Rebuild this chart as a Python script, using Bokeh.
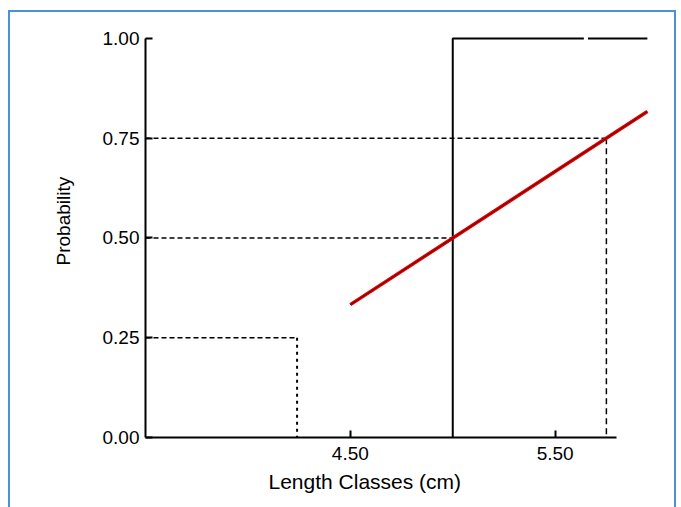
from bokeh.plotting import figure
from bokeh.models import FixedTicker, NumeralTickFormatter, Range1d, Title
from bokeh.embed import file_html
from bokeh.resources import INLINE

# ---- data ----
y_ticks = [0.0, 0.25, 0.50, 0.75, 1.00]
x_ticks = [4.50, 5.50]

# empirical step (maturity) line
step_x1 = [5.0, 5.0, 5.64]
step_y1 = [0.0, 1.0, 1.0]
step_x2 = [5.66, 5.95]
step_y2 = [1.0, 1.0]

# fitted logistic (linearised) line
fit_x = [4.50, 5.95]
fit_y = [0.333, 0.817]

# quantile reference lines
q25_len = 4.24
q50_len = 5.00
q75_len = 5.75
x_min = 3.50

x_label = "Length Classes (cm)"
y_label = "Probability"

p = figure(width=681, height=507, output_backend="svg", toolbar_location=None,
           x_range=Range1d(3.5, 5.98), y_range=Range1d(0.0, 1.02),
           min_border_left=145, min_border_right=28, min_border_top=30, min_border_bottom=70)
p.outline_line_color = None
p.xgrid.visible = False
p.ygrid.visible = False
p.background_fill_color = "white"
p.border_fill_color = None

blue = "#4a90d9"
g = f"linear-gradient({blue},{blue})"
p.styles = {
    "background": (f"{g} 8px 10px / 2px 497px no-repeat, "
                   f"{g} 8px 10px / 668px 2px no-repeat, "
                   f"{g} 674px 10px / 2px 497px no-repeat, white"),
}

dash = "5 3"
# horizontal dashed lines
p.line([x_min, q25_len], [0.25, 0.25], line_color="black", line_width=1.5, line_dash=dash)
p.line([x_min, q50_len], [0.50, 0.50], line_color="black", line_width=1.5, line_dash=dash)
p.line([x_min, q75_len], [0.75, 0.75], line_color="black", line_width=1.5, line_dash=dash)
# vertical drop lines
p.line([q25_len, q25_len], [0.25, 0.0], line_color="black", line_width=2, line_dash="3 4")
p.line([q75_len, q75_len], [0.75, 0.0], line_color="black", line_width=1.5, line_dash="6 4")

# step
p.line(step_x1, step_y1, line_color="black", line_width=2)
p.line(step_x2, step_y2, line_color="black", line_width=2)

# fitted line
p.line(fit_x, fit_y, line_color="#e00000", line_width=3.5)
p.line(fit_x, fit_y, line_color="#600000", line_width=1)

for ax in (p.xaxis[0], p.yaxis[0]):
    ax.axis_line_width = 2
    ax.axis_line_color = "black"
    ax.major_tick_line_width = 2
    ax.major_tick_line_color = "black"
    ax.major_tick_in = 7
    ax.major_tick_out = 0
    ax.minor_tick_line_color = None
    ax.major_label_text_font = "Liberation Sans"
    ax.major_label_text_font_size = "19px"
    ax.major_label_text_color = "black"
    ax.formatter = NumeralTickFormatter(format="0.00")

p.xaxis.ticker = FixedTicker(ticks=x_ticks)
p.yaxis.ticker = FixedTicker(ticks=y_ticks)
p.xaxis.bounds = (3.5, 5.8)
p.yaxis.bounds = (0.0, 1.0)
p.xaxis.major_label_standoff = 9
p.yaxis.major_label_standoff = 6

xt = Title(text=x_label, align="left", offset=123, standoff=11,
           text_font="Liberation Sans", text_font_size="21px",
           text_font_style="normal", text_color="black")
p.add_layout(xt, "below")

yt = Title(text=y_label, align="left", offset=172, standoff=52,
           text_font="Liberation Sans", text_font_size="19px",
           text_font_style="normal", text_color="black")
p.add_layout(yt, "left")

open("out.html", "w").write(file_html(p, INLINE))
